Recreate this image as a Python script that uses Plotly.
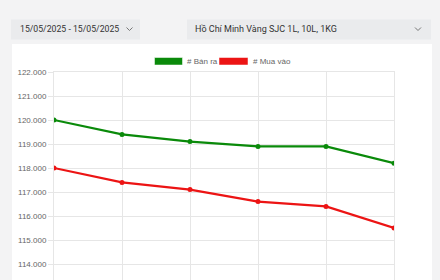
import plotly.graph_objects as go

categories = ["10/05", "11/05", "12/05", "13/05", "14/05", "15/05"]
ban_ra = [120000, 119400, 119100, 118900, 118900, 118200]
mua_vao = [118000, 117400, 117100, 116600, 116400, 115500]
y_ticks = [114000, 115000, 116000, 117000, 118000, 119000, 120000, 121000, 122000]
date_label = "15/05/2025 - 15/05/2025"
product_label = "Hồ Chí Minh Vàng SJC 1L, 10L, 1KG"
series_names = ["# Bán ra", "# Mua vào"]
series_colors = ["#0a8a0a", "#ec1414"]

W, H = 440, 280
ML, MR, MT, MB = 54, 46, 72, 0
PW, PH = W - ML - MR, H - MT - MB


def px(x):
    return (x - ML) / PW


def py(y):
    return (H - MB - y) / PH


fig = go.Figure()
for name, vals, col in zip(series_names, [ban_ra, mua_vao], series_colors):
    fig.add_trace(go.Scatter(
        x=categories, y=vals, name=name, mode="lines+markers",
        line=dict(color=col, width=2.2),
        marker=dict(color=col, size=5),
        showlegend=False,
    ))

shapes = []
annotations = []
# white card
shapes.append(dict(type="rect", xref="paper", yref="paper", layer="below",
                   x0=px(12), x1=px(432), y0=py(290), y1=py(44),
                   fillcolor="white", line=dict(width=0)))
# dropdown boxes
for x0, x1 in [(11, 140), (187, 431)]:
    shapes.append(dict(type="rect", xref="paper", yref="paper", layer="below",
                       x0=px(x0), x1=px(x1), y0=py(39.5), y1=py(19.5),
                       fillcolor="#eaebed", line=dict(width=0)))
# chevrons
for cx in [129.5, 418]:
    path = f"M {px(cx-3)},{py(27.5)} L {px(cx)},{py(30.5)} L {px(cx+3)},{py(27.5)}"
    shapes.append(dict(type="path", xref="paper", yref="paper", path=path,
                       line=dict(color="#777", width=1)))
annotations.append(dict(xref="paper", yref="paper", x=px(18), y=py(29.5),
                        xanchor="left", yanchor="middle", showarrow=False,
                        text=date_label, font=dict(family="Roboto", size=8.7, color="#333")))
annotations.append(dict(xref="paper", yref="paper", x=px(193), y=py(29.5),
                        xanchor="left", yanchor="middle", showarrow=False,
                        text=product_label, font=dict(family="Roboto", size=9, color="#333")))
# legend
for (bx0, bx1, tx), name, col in zip([(154.5, 182.5, 185), (219, 248, 251)], series_names, series_colors):
    shapes.append(dict(type="rect", xref="paper", yref="paper",
                       x0=px(bx0), x1=px(bx1), y0=py(65), y1=py(57.5),
                       fillcolor=col, line=dict(color="white", width=0.5)))
    annotations.append(dict(xref="paper", yref="paper", x=px(tx), y=py(61.5),
                            xanchor="left", yanchor="middle", showarrow=False,
                            text=name, font=dict(family="Liberation Sans", size=8, color="#666")))

grid = "#e6e6e6"
fig.update_layout(
    width=W, height=H,
    margin=dict(l=ML, r=MR, t=MT, b=MB, pad=0),
    paper_bgcolor="#f3f3f4", plot_bgcolor="white",
    separators=",.",
    shapes=shapes, annotations=annotations,
    xaxis=dict(type="category", range=[0, len(categories) - 1], showgrid=True,
               gridcolor=grid, gridwidth=1, showticklabels=False, zeroline=False,
               showline=True, linecolor=grid, mirror=True, ticks="", automargin=False),
    yaxis=dict(range=[122000 - PH / 24 * 1000, 122000], tickvals=y_ticks,
               tickformat=",d", showgrid=True, gridcolor=grid, gridwidth=1,
               zeroline=False, showline=True, linecolor=grid, mirror=True,
               ticks="outside", ticklen=5, tickcolor=grid,
               tickfont=dict(family="Liberation Sans", size=8, color="#666"),
               automargin=False),
)

fig.write_html("out.html")
